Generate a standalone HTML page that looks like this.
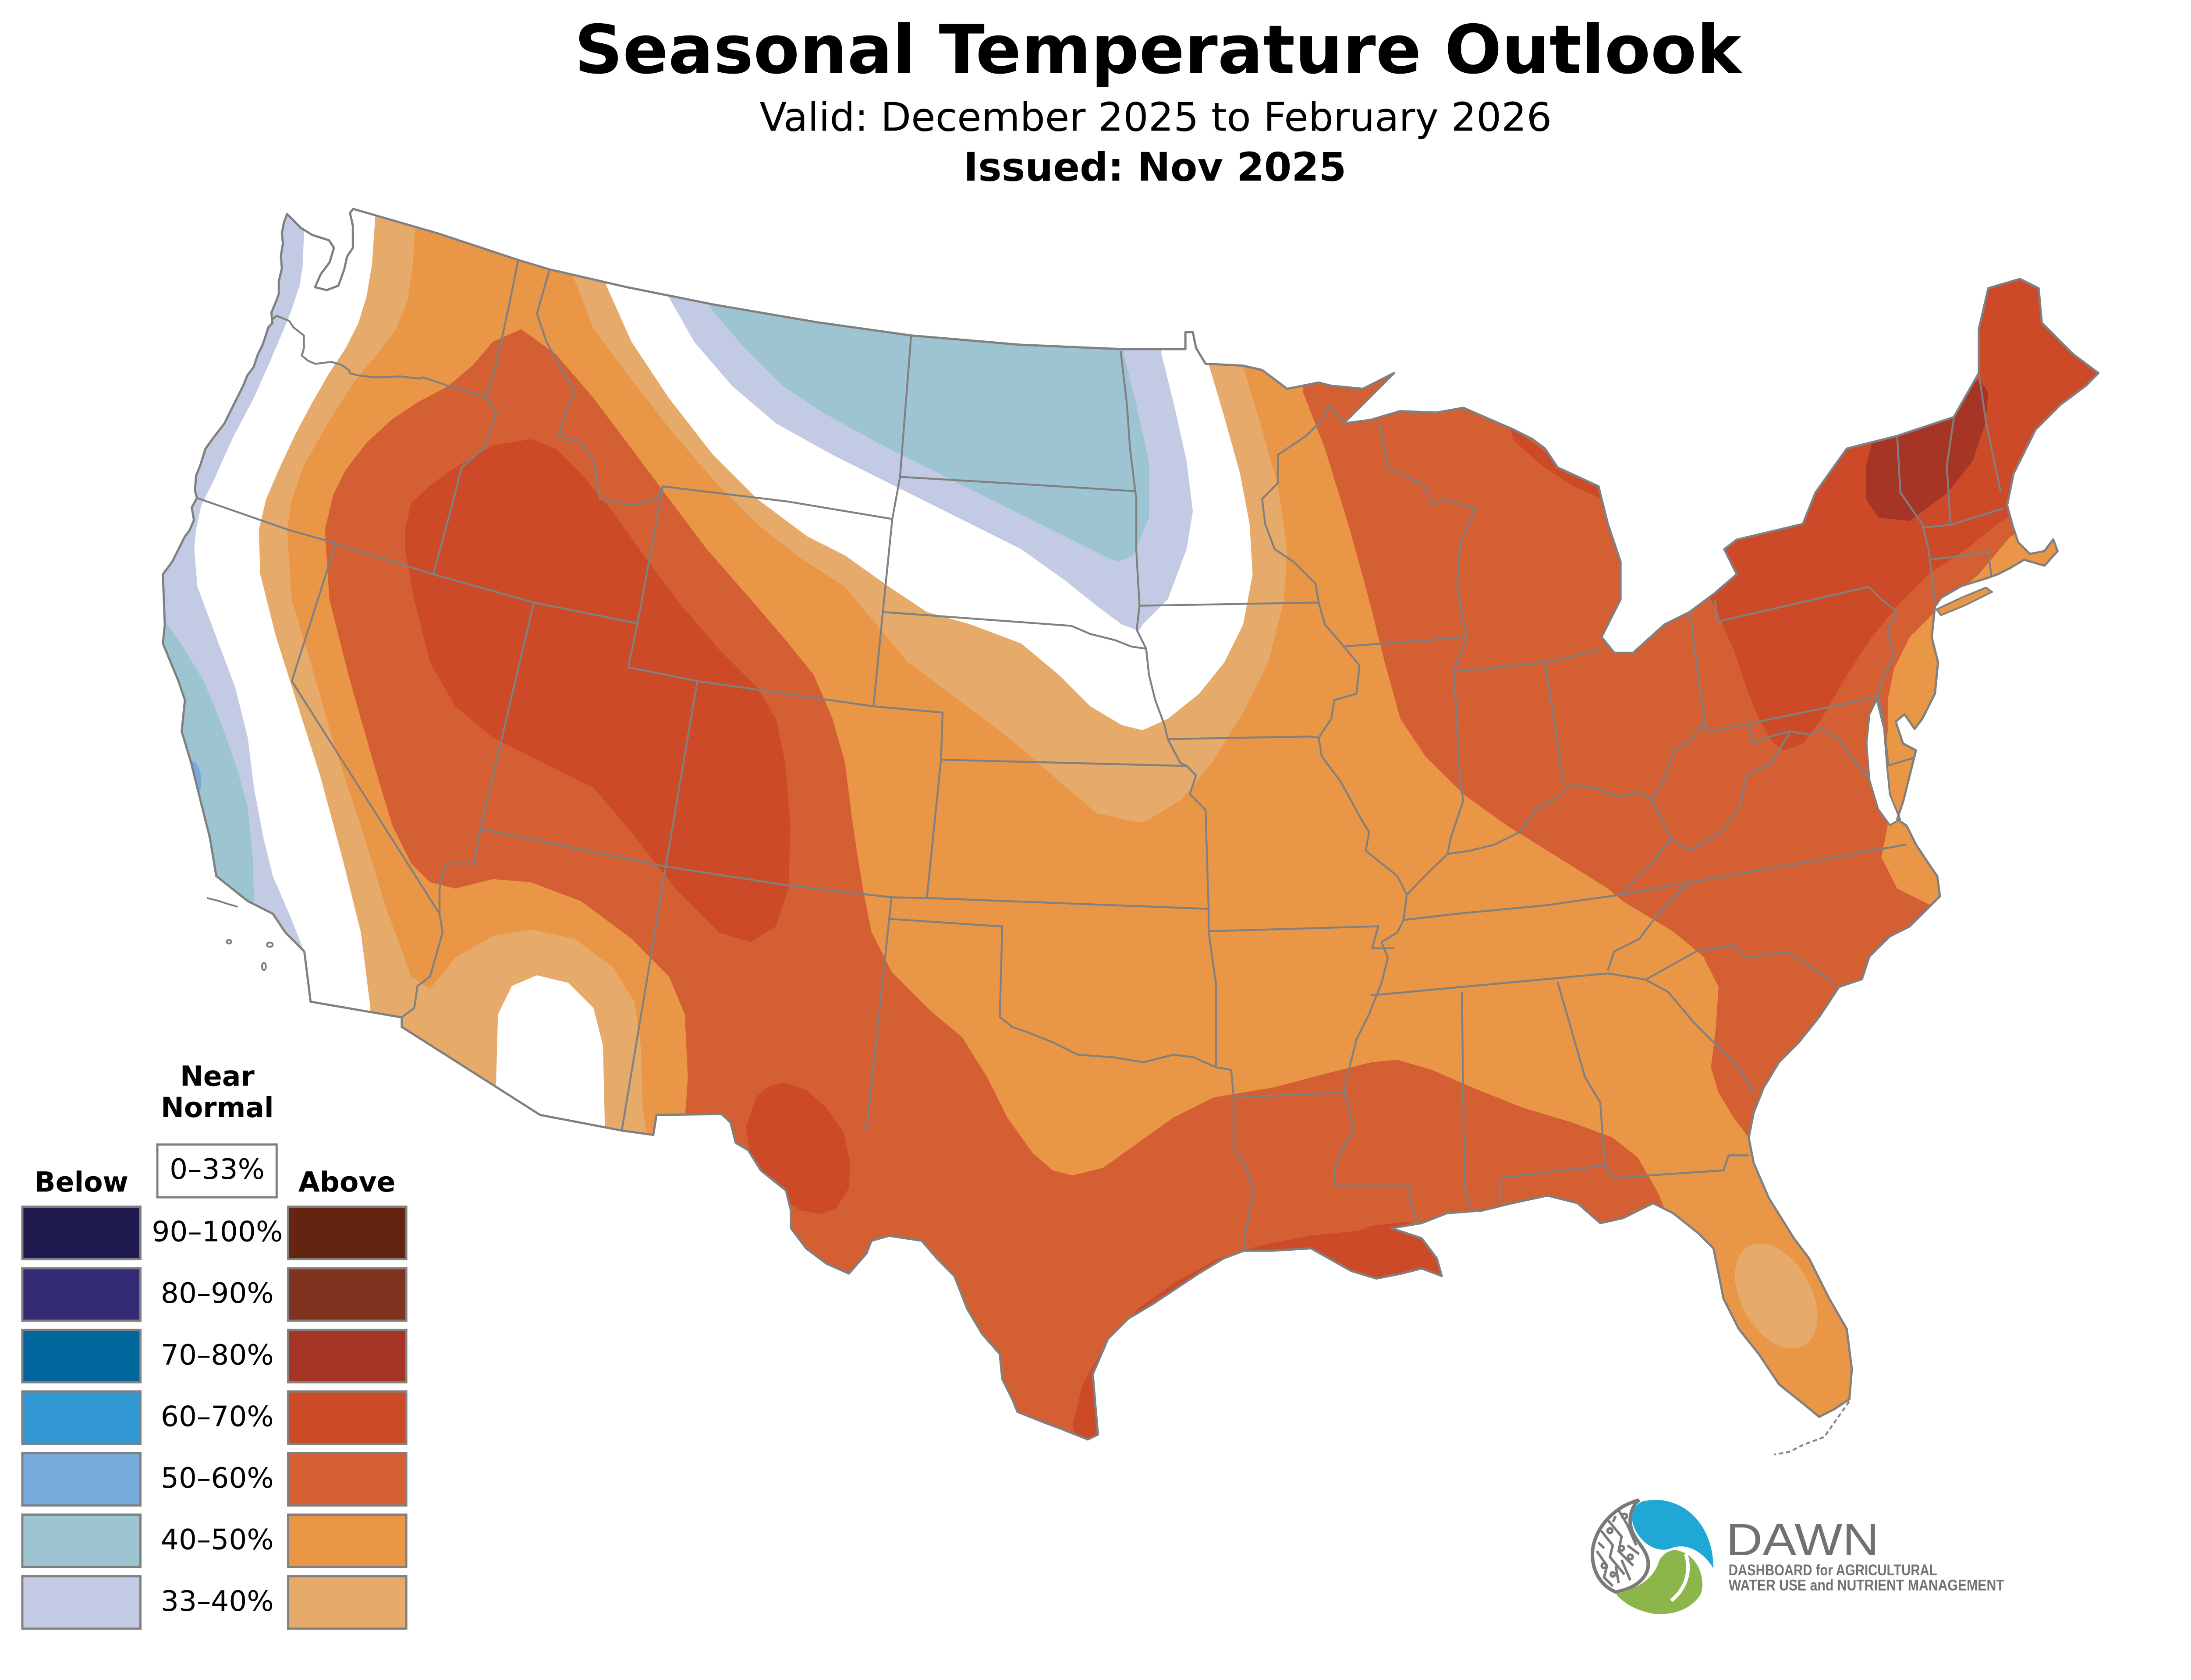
<!DOCTYPE html>
<html><head><meta charset="utf-8">
<style>html,body{margin:0;padding:0;background:#fff;}svg{display:block;}</style>
</head><body>
<svg xmlns="http://www.w3.org/2000/svg" width="5218" height="3835" viewBox="0 0 1568 1152.4">
<defs>
<clipPath id="us"><path id="usp" d="M242.2,143.3 L300,160 L355.3,178.3 L376.9,184.8 L430,197 L490,209 L560,221 L624.8,230.1 L700,236.5 L770.3,239.5 L812.9,239.5 L812.9,227.9 L818,227.9 L820.2,238.7 L826.7,249.5 L852.5,250.8 L865.5,253.8 L882.7,266.7 L904.3,262.4 L912.9,264.6 L934.5,266.7 L956,255.9 L921.5,290.4 L940,288 L960,282 L985,283 L1003.5,279.7 L1038,294.7 L1050.9,301.2 L1059.5,307.7 L1068.1,320.6 L1096.2,333.6 L1102.6,359.4 L1111.3,385.3 L1111.3,411.2 L1102.6,428.4 L1098.3,437 L1107,447.8 L1119.9,447.8 L1141.4,428.4 L1158.7,419.8 L1175.9,406.9 L1191,393.9 L1182.4,376.7 L1191,370.2 L1236.3,359.4 L1245,337.9 L1266.5,307.7 L1301,299 L1339.8,286.1 L1357,255.9 L1357,225.7 L1363.5,197.7 L1385.1,191.3 L1398,197.7 L1400.2,221.4 L1421.7,243 L1439,255.9 L1430.4,264.6 L1413.1,277.5 L1395.9,294.7 L1380.8,324.9 L1376.4,346.5 L1380,360 L1384,372 L1392,380 L1402,378 L1408,370 L1411,378 L1402,388 L1388,384 L1378.6,389.6 L1370,393.9 L1361.4,397 L1345,402 L1331.2,410 L1326.9,416 L1324.7,437 L1329,454.3 L1326.9,475.8 L1318.2,493.1 L1313,500 L1306,490 L1300,495 L1305,510 L1313.9,514.7 L1305.3,549.1 L1301,562 L1307.5,566.4 L1313.9,579.3 L1322.5,592.3 L1328.5,601 L1330.3,614.8 L1319.9,625.2 L1309.5,635.5 L1295.8,642.4 L1281.9,656.2 L1276.8,671.7 L1261.2,676.9 L1247.5,697.6 L1233.6,714.9 L1219.9,728.7 L1209.5,745.9 L1202.6,763.2 L1199.2,780.4 L1202.6,797.7 L1213,821.8 L1230.2,849.4 L1240.6,863.2 L1254.4,890.8 L1266.4,911.5 L1269.9,939.1 L1268.2,959.8 L1257.8,966.7 L1247.5,971.9 L1237.1,963.3 L1219.9,949.5 L1206.1,928.8 L1192.3,911.5 L1181.9,890.8 L1178.5,873.6 L1175,856.3 L1164.7,846 L1147.4,832.2 L1133.6,825.3 L1112.9,835.6 L1097.4,839 L1081.8,825.3 L1061.2,820.1 L1037,825.3 L1016.3,830.4 L992.2,832.2 L974.9,839 L954.2,842.5 L974.9,849.4 L985.3,863.2 L988.7,875.3 L974.9,870.1 L961.1,873.6 L943.9,877 L926.6,871.8 L899,856.3 L871.4,858 L852.9,858 L839.1,863.2 L821.9,873.6 L790.8,894.3 L773.6,904.6 L759.8,918.4 L749.4,942.6 L751.1,963.3 L752.9,984 L746,987.4 L728.7,980.5 L714.9,975.3 L697.7,968.4 L694.2,959.8 L687.3,946 L685.6,928.8 L673.5,915 L663.2,897.7 L654.5,875.3 L642.5,863.2 L632.1,851.1 L609.7,847.7 L597.6,851.1 L594.2,859.8 L582.1,873.6 L566.6,866.7 L552.8,856.3 L542.4,842.5 L542.4,830.4 L539,816.6 L530.3,809.7 L521.7,802.8 L513.1,789 L504.5,783.9 L501,770 L494.8,764.2 L450.2,764.8 L448,778.5 L426.4,775.5 L370.4,764.8 L275.5,704.4 L275.5,697.9 L213,687.1 L208.7,652.7 L195.8,639.7 L187.1,626.8 L169.9,618.1 L148.3,600.9 L144,575 L137.5,549.2 L131.1,523.3 L124.6,501.7 L126.8,480.2 L122.4,467.2 L111.7,441.4 L113,428.4 L111.7,393.9 L118.1,385.3 L126.8,368 L130.1,363.6 L133,356.7 L131.5,348.1 L135.1,341.6 L133.7,336.6 L134.4,326.5 L137.3,319.3 L140.9,307.8 L146.6,299.9 L153.8,290.6 L158.1,281.9 L162.4,273.3 L166.7,264.7 L169.6,257.5 L173.9,251.8 L176.8,243.1 L179.7,237.4 L181.8,231.6 L184,224.5 L186.8,221.6 L186.1,214.4 L189.7,205.8 L191.2,201.5 L191.2,192.8 L193.3,184.2 L192.6,175.6 L194,167 L193.3,159.8 L194.7,152.6 L196.9,146.8 L206.2,156.2 L214.2,161.2 L225.6,164.8 L229,170 L226,180 L220,188 L216,197 L224,199 L232,196 L236,185 L238,176 L242,170 L242,155 L240,146 Z"/></clipPath>
</defs>

<rect x="0" y="0" width="1568" height="1152.4" fill="#ffffff"/>

<!-- Titles -->
<text x="794" y="50" text-anchor="middle" font-family="DejaVu Sans, Liberation Sans, sans-serif" font-weight="bold" font-size="46" fill="#000">Seasonal Temperature Outlook</text>
<text x="792.5" y="89.7" text-anchor="middle" font-family="DejaVu Sans, Liberation Sans, sans-serif" font-size="27.1" fill="#000">Valid: December 2025 to February 2026</text>
<text x="792" y="123.9" text-anchor="middle" font-family="DejaVu Sans, Liberation Sans, sans-serif" font-weight="bold" font-size="27" fill="#000">Issued: Nov 2025</text>

<!-- Map fills -->
<g clip-path="url(#us)">
  <rect x="0" y="0" width="1568" height="1152" fill="#ffffff"/>
  <path fill="#c3cbe4" d="M90,140 L208.4,140 L208.4,159.8 L207.7,181.3 L205.5,195.7 L199.8,213 L194,227.3 L185.4,247.5 L173.9,273.3 L159.5,300.6 L146.6,329.4 L138,346.6 L134.4,363.6 L133.2,376.7 L135.4,402.5 L148.3,437 L161.3,471.5 L169.9,506 L174.2,540.5 L180.7,575 L187.1,600.9 L200.1,631.1 L208.7,652.7 L215,700 L90,700 Z"/>
  <path fill="#9cc4d1" d="M100,415 L111.7,424.1 L126.8,445.7 L139.7,467.2 L150.5,493.1 L161.3,523.3 L169.9,553.5 L173.3,588 L174.2,620 L100,620 Z"/>
  <ellipse cx="131" cy="536" rx="7" ry="14" fill="#78aadb"/>
  <path fill="#c3cbe4" d="M458,100 L458.8,204.2 L476,234.4 L501.9,264.6 L532.1,290.4 L570.9,312 L614,333.6 L657.1,355.1 L700.3,376.7 L730.4,398.2 L752,415.5 L769.3,428.4 L781,432.7 L783.5,428.4 L800.8,411.2 L813.7,376.7 L818,350.8 L813.7,316.3 L805.1,277.5 L796.5,243 L796,100 Z"/>
  <path fill="#9cc4d1" d="M486,100 L486.8,210.7 L510.5,238.7 L536.4,264.6 L562.3,281.8 L601.1,303.4 L644.2,324.9 L687.3,346.5 L730.4,368 L760.6,383.1 L766.3,385.3 L777.1,381 L787.9,355.1 L787.9,316.3 L779.2,277.5 L770.6,243 L770,100 Z"/>
  <path fill="#e6aa6a" d="M257,100 L410,100 L415.7,195.6 L433,234.4 L458.8,273.2 L489,312 L519.2,342.2 L553.7,368 L579.5,381 L609.7,402.5 L635.6,419.8 L665.8,428.4 L700.3,441.4 L726.1,462.9 L747.7,484.5 L769.3,497.4 L783.5,500.9 L800.8,493.1 L822.4,475.8 L839.6,454.3 L852.5,428.4 L859,393.9 L856.9,359.4 L850.4,324.9 L839.6,286.1 L828.8,249.5 L828,100 L1550,100 L1550,1100 L414.8,1100 L414.8,773.4 L413.5,717.3 L407,691.4 L389.8,674.2 L368.2,669 L351,676.3 L341.5,695.8 L340.2,743.2 L340,1100 L254,1100 L254,691.4 L247.5,639.7 L234.6,587.9 L219.5,531.9 L204.4,484.5 L189.3,437 L178.5,393.9 L177.5,363.6 L182.5,342.3 L191.2,322.2 L202.6,297.7 L214.1,276.2 L225.6,256.1 L237.1,238.8 L245.8,221.6 L251.5,202.9 L255.1,181.3 L257.3,149 Z"/>
  <path fill="#ea9647" d="M284.6,100 L392,100 L392,187 L407.1,225.8 L433,260.2 L463.1,299 L493.3,333.6 L519.2,359.4 L549.3,383.1 L579.5,402.5 L601.1,428.4 L622.6,454.3 L657.1,480.2 L691.6,506 L721.8,531.9 L752,557.8 L781.3,564.2 L787.9,562.1 L809.4,549.1 L831,523.3 L852.5,488.8 L869.8,454.3 L880.6,411.2 L882.7,376.7 L876.3,333.6 L865.5,294.7 L852.5,251.6 L850,100 L1550,100 L1550,1100 L443.7,1100 L443.7,777.7 L440.7,760.4 L439.4,717.3 L435.1,687.1 L420,663.4 L394.1,644 L363.9,637.5 L338,641.9 L312.2,656.9 L294.9,678.5 L282,669.9 L264.7,622.5 L247.5,566.4 L230.2,514.7 L213,454.3 L200.1,411.2 L196.9,363.6 L199.8,343.8 L208.4,319.3 L225.6,289.1 L242.9,261.8 L257.3,244.6 L271.6,225.9 L279.6,205.8 L283.1,181.3 L284.6,158.3 Z"/>
  <ellipse cx="1218" cy="889" rx="24" ry="39" transform="rotate(-29 1218 889)" fill="#e6aa6a"/>
  <path fill="#d35f33" d="M357.5,225.8 L381.2,243 L407.1,273.2 L433,307.7 L458.8,342.2 L484.7,376.7 L514.9,411.2 L540.7,441.4 L558,462.9 L570.9,493.1 L579.5,523.3 L583.8,557.8 L588.2,588 L592.5,613.8 L597.6,639 L611.4,666.6 L639,694.2 L659.7,711.4 L677,739 L690.8,766.6 L708,790.8 L721.8,802.8 L735.4,806.3 L756.3,801.1 L780.5,783.9 L804.6,766.6 L832.2,752.8 L873.6,745.9 L905.9,737.3 L940.4,728.7 L957.7,726.9 L981.8,733.8 L1009.4,745.9 L1043.9,759.7 L1078.4,770.1 L1106,780.4 L1123.3,794.2 L1137.1,818.4 L1144,835.6 L1150,900 L760,1050 L469.6,1050 L469.6,769.1 L471.7,738.9 L469.6,695.8 L458.8,669.9 L432.9,643.8 L398.4,618.1 L363.9,605.2 L338,603 L312.2,609.5 L294.9,605.2 L282,592.3 L269.1,566.4 L256.1,523.3 L238.9,462.9 L225.9,411.2 L222.8,363.6 L228.5,339.4 L237.1,322.2 L251.5,303.5 L268.8,287.7 L286,276.2 L307.6,264.7 L324.5,250.3 L338,234.4 Z"/>
  <path fill="#d35f33" d="M885,120 L893.5,268.9 L908.6,307.7 L925.8,363.7 L938.8,411.2 L949.6,454.3 L960.3,493.1 L977.6,519 L1003.5,544.8 L1033.6,566.4 L1068.1,587.9 L1102.6,609.5 L1112.9,618.3 L1147.4,639 L1168.1,656.2 L1178.5,676.9 L1176.7,704.5 L1173.3,732.1 L1178.5,749.4 L1188.8,766.6 L1199.2,780.4 L1240,800 L1550,800 L1550,120 Z"/>
  <path fill="#ea9647" d="M1420,330 L1408.8,355.1 L1378.6,368 L1357,393.9 L1326.9,419.8 L1309.6,437 L1298.8,458.6 L1294.5,480.2 L1294.5,501.7 L1290.2,531.9 L1294.5,566.4 L1290.2,588 L1301,609.5 L1327,622.4 L1400,640 L1500,640 L1500,330 Z"/>
  <path fill="#cc4a28" d="M338,305.5 L364,301.2 L381.2,307.7 L398.4,324.9 L420,350.8 L441.5,381 L467.4,415.5 L493.3,445.7 L519.2,471.5 L532.1,493.1 L538.5,523.3 L542,566.4 L540.7,609.5 L532.1,635.4 L514.9,646.2 L493.3,639.7 L463.1,609.5 L432.9,570.7 L407.1,540.5 L372.5,523.3 L338,506 L312.2,484.5 L294.9,454.3 L284.1,411.2 L277.7,376.7 L277.7,363 L282,345 L295,333 L310,322 Z"/>
  <path fill="#cc4a28" d="M526.9,745.2 L537.2,742.5 L552.8,747.6 L566.6,759.7 L578.6,777 L583.1,797.7 L582.1,814.9 L573.5,828.7 L563.1,832.8 L549.3,830.4 L539,823.5 L514.8,794.2 L511.4,773.5 L518.3,752.8 Z"/>
  <path fill="#cc4a28" d="M735.6,977 L742.5,949.5 L756.3,925.3 L780.5,897.7 L804.6,880.5 L835.7,863.2 L863.3,854.6 L897.8,847.7 L931.6,844.2 L940.4,840.8 L965,838 L985,850 L1000,880 L1000,1000 L740,1000 Z"/>
  <path fill="#cc4a28" d="M1150,330 L1150,380 L1172,408 L1188.9,445.7 L1197.5,471.5 L1206.1,493.1 L1214.8,508.2 L1223.4,514.7 L1236.3,510.3 L1249.2,493.1 L1266.5,462.9 L1283.7,437 L1301,415.5 L1322.5,393.9 L1348.4,376.7 L1370,359.4 L1382.9,350.8 L1400,340 L1460,250 L1420,150 L1250,150 Z"/>
  <path fill="#cc4a28" d="M1035,292 L1068,316 L1096,331 L1098,342 L1080,334 L1058,320 L1038,302 Z"/>
  <path fill="#a63526" d="M1279.5,320.6 L1283.7,303.4 L1301,294.7 L1322.5,281.8 L1344.1,268.9 L1357,260.2 L1363.5,268.9 L1361.4,290.4 L1352.7,316.3 L1335.5,337.9 L1309.6,357.3 L1288.1,355.1 L1279.5,342.2 Z"/>
</g>

<path d="M1287,480 L1292,500 L1294,525 L1296,545 L1303,562 L1296,566 L1288,555 L1282,535 L1280,510 L1282,490 Z" fill="#ffffff" stroke="#808080" stroke-width="1.2"/>
<path d="M1328,418 L1345,410 L1362,403 L1366,406 L1348,415 L1331,422 Z" fill="#ea9647" stroke="#808080" stroke-width="1.2"/>

<path fill="none" stroke="#808080" stroke-width="1.3" stroke-linejoin="round" d="
M186.8,219 L189.7,216.6 L198.3,220.1 L201.2,224.5 L208.4,230.2 L208.4,238.8 L207,243.9 L211.3,247.5 L216.3,249.6 L227.1,248.2 L234.3,250.3 L239.3,253.9 L240,256.1 L245.8,257.5 L257.3,258.9 L274.5,258.2 L287.5,259.7 L290.3,258.9 L307.6,264.7 L324.5,269.7 L333.7,272.3
M355.3,178.3 L349,210 L340.2,250 L333.7,272.3 L340.2,284 L331.6,307.7 L316.5,320.6 L312.2,337.9 L305,365 L297.1,393.9
M135.1,341.6 L198.3,363.6 L221.6,370.2 L297.1,393.9 L366.1,413.3 L437.2,427.6
M230.2,372.9 L200.1,467.2 L301.4,626.8
M376.9,184.8 L368.2,215 L374.7,234.4 L394.1,268.9 L387.6,284 L383.3,299 L398.4,303.4 L407,316.3 L411.4,342.2 L432.9,346.5 L450.2,342.2 L454.5,333.6 L437.2,427.6 L430.8,457.7 L478.2,467.2
M454.5,333.6 L540,344 L611.9,356
M624.8,230.1 L617.2,327.1 L611.9,356 L605.4,419.8 L599,484.5
M617.2,327.1 L700,332 L779.2,337
M478.2,467.2 L599,484.5 L646.4,488.8 L645.3,521.1 L635.6,616
M605.4,419.8 L734.7,429.3 L747.7,434.9 L765,439.2 L775.8,443.5 L786,445
M645.3,521.1 L813.7,525.4
M478.2,467.2 L456.6,594.4 L540.7,607.4 L611.4,615.5 L635.6,616 L828.1,623.4
M329.4,568.6 L456.6,594.4
M366.1,413.3 L329.4,568.6 L325.1,592.3 L305.7,592.3 L301.4,609.5 L301.4,626.8 L303.5,639.7 L294.9,669.9 L286.3,676.3 L284.1,691.4 L275.5,697.9
M456.6,594.4 L426.4,775.5
M611.4,615.5 L609.7,631.1 L594.2,775.9
M609.7,630.3 L687.3,635.5 L685.6,697.6 L694.2,704.5 L704.6,708 L721.8,714.9 L739,723.5 L763.2,725.2 L784,728.7 L804.6,723.5 L818.4,725.2 L833.9,732.1 L844.3,733.8 L846,752.8 L846,787.3 L854.6,801.1 L859.8,818.4 L854.6,842.5 L852.9,858
M813.7,525.4 L820.2,531.9 L815.9,544.8 L826.7,555.6 L828.8,622.5 L828.8,639 L833.9,675.2 L833.9,732.1
M846,752.8 L923.6,749.4
M828.8,638.8 L945.2,635.4 L941,650.5 L956,650.5
M768.5,240.8 L772.8,277.5 L774.9,307.7 L779.2,342.2 L779.2,376.7 L781.4,415.5 L779.5,432 L786,445 L787.9,462.9 L792.2,480.2 L798.6,497.4 L800.8,507 L809.4,523.3 L813.7,525.4
M781.4,415.5 L904.3,413.3
M904.3,413.3 L902.1,400.4 L887,385.3 L874.1,376.7 L867.6,359.4 L865.5,342.2 L876.3,331.4 L876.3,312 L895.7,299 L904.3,290.4 L912,278 L921.5,290.4
M946,290 L951.7,320.6 L977.6,333.6 L981.9,346.5 L990.5,342.2 L1003.5,346.5 L1012.1,348.6 L1001.3,372.4 L999.2,402.5 L1005.6,437 L997,460.8
M921.5,443.5 L1005.6,437
M904.3,413.3 L908.6,428.4 L921.5,443.5 L932.3,456.4 L930.2,475.8 L915,480.2 L912.9,493.1 L904.3,506 L906.4,518.9 L919.4,536.2 L932.3,559.9 L938.8,570.7 L936.6,583.6 L947.4,592.3 L958.2,600.9 L964.7,613.8 L962.5,631.1 L958.2,639.7 L947.4,646.2 L951.7,657 L947.4,674.2 L938.8,695.8 L930.2,713 L923.7,738.9 L921.5,751.8 L923.2,752.8 L928.3,773.5 L916.3,797.7 L914.5,813.2 L966.3,813.2 L968,828.7 L973.2,839
M800.8,507 L897.8,505.2 L904.3,506
M997,460.8 L1001.3,536.2 L1003.5,549.1 L994.8,575 L992.7,585.8
M964.7,613.8 L980,598 L992.7,585.8 L1007.8,583.6 L1025,579.3 L1042.3,570.7 L1053,555.6 L1068.1,547 L1076.8,538.4 L1094,540.5 L1111.3,547 L1124.2,542.7 L1132.8,549.1 L1141.4,534.1 L1147.9,514.7 L1158.7,508.2 L1167.3,497.4 L1169.5,499.6
M997,460.8 L1059.5,454.3 L1098.3,445.7
M1059.5,454.3 L1072.5,538.4
M1158.7,419.8 L1169.5,499.6 L1173.8,501.7 L1288.1,478
M1175.9,411.2 L1178.1,426.3 L1281.6,402.5 L1290.2,411.2 L1301,419.8 L1294.5,432.7 L1298.8,450 L1290.2,467.2 L1288.1,478 L1291,490 L1295,525 L1312,520
M1199.7,497.4 L1201.8,510.3 L1210.4,506 L1227.7,501.7 L1240.6,503.9 L1249.2,499.6 L1262,508 L1270,520 L1282,535
M1145.8,575 L1158.7,583.6 L1180.3,570.7 L1193.2,553.5 L1197.5,532 L1214.8,523.3 L1227.7,501.7
M1132.8,549.1 L1145.8,575 L1132.8,592.3 L1111.3,613.8
M962.5,631.1 L999.2,626.8 L1060,621 L1111.3,613.8 L1158.7,605.2 L1307.5,579.3
M1158.7,605.2 L1137.1,626.8 L1124.2,644 L1106.9,652.7 L1102.6,665.6
M940,682.8 L1102.6,667.7 L1128.5,672 L1163,652.7 L1188.9,648.3 L1197.5,657 L1225.6,652.7 L1257.9,674.2
M1128.5,672 L1143.9,680.4 L1161.2,701 L1175,714.9 L1192.3,732.1 L1202.6,749.4
M1002.5,680.4 L1004.2,811.5 L1007.7,828.7
M1068.1,673.5 L1087,739 L1097.4,756.3 L1099.1,780.4 L1100.8,799.4
M1028.4,825 L1028.4,808 L1100.8,799.4 L1106,808 L1181.9,802.8 L1185.4,792.5 L1199.2,792.5
M1301,299 L1303.2,337.9 L1318.2,359.4 L1322.5,376.7 L1326.9,411.2
M1339.8,287 L1335,320 L1337.6,360
M1357,256 L1362,290 L1372.1,337.9
M1318.2,362 L1337.6,360 L1374.3,348.6
M1322.5,384 L1363.5,378.8 L1365.6,395
"/>
<use href="#usp" fill="none" stroke="#808080" stroke-width="1.5" stroke-linejoin="round"/>

<g fill="none" stroke="#808080" stroke-width="1.2">
  <path d="M142,616 L150,618 L156,620 L163,622"/>
  <ellipse cx="157" cy="646" rx="1.6" ry="1.2"/>
  <ellipse cx="185" cy="648" rx="2" ry="1.5"/>
  <ellipse cx="181" cy="663" rx="1.3" ry="2.5"/>
  <path d="M1268,961.5 L1262,970 L1251,985.7 L1237,990.9 L1226.8,996 L1216.4,997.8" stroke-dasharray="3 2"/>
</g>

<!-- Legend -->
<g font-family="DejaVu Sans, Liberation Sans, sans-serif" font-size="19" fill="#000" text-anchor="middle">
  <text x="149" y="744.8" font-weight="bold">Near</text>
  <text x="149" y="766.3" font-weight="bold">Normal</text>
  <text x="55.8" y="817.3" font-weight="bold">Below</text>
  <text x="237.9" y="817.3" font-weight="bold">Above</text>
  <rect x="107.9" y="785.1" width="81.8" height="36.2" fill="#fff" stroke="#808080" stroke-width="1.5"/>
  <text x="148.9" y="808.6" font-size="19.4">0–33%</text>
</g>
<g stroke="#808080" stroke-width="1.5">
  <rect x="15.3" y="827.7" width="81" height="36" fill="#1f1a50"/>
  <rect x="15.3" y="869.95" width="81" height="36" fill="#332c74"/>
  <rect x="15.3" y="912.2" width="81" height="36" fill="#00669b"/>
  <rect x="15.3" y="954.45" width="81" height="36" fill="#3399d4"/>
  <rect x="15.3" y="996.7" width="81" height="36" fill="#78aadb"/>
  <rect x="15.3" y="1038.95" width="81" height="36" fill="#9cc4d1"/>
  <rect x="15.3" y="1081.2" width="81" height="36" fill="#c3cbe4"/>
  <rect x="197.6" y="827.7" width="81" height="36" fill="#632410"/>
  <rect x="197.6" y="869.95" width="81" height="36" fill="#7e341e"/>
  <rect x="197.6" y="912.2" width="81" height="36" fill="#a63526"/>
  <rect x="197.6" y="954.45" width="81" height="36" fill="#cc4a28"/>
  <rect x="197.6" y="996.7" width="81" height="36" fill="#d35f33"/>
  <rect x="197.6" y="1038.95" width="81" height="36" fill="#ea9647"/>
  <rect x="197.6" y="1081.2" width="81" height="36" fill="#e6aa6a"/>
</g>
<g font-family="DejaVu Sans, Liberation Sans, sans-serif" font-size="19.4" fill="#000" text-anchor="middle">
  <text x="149" y="851.5">90–100%</text>
  <text x="149" y="893.75">80–90%</text>
  <text x="149" y="936">70–80%</text>
  <text x="149" y="978.25">60–70%</text>
  <text x="149" y="1020.5">50–60%</text>
  <text x="149" y="1062.75">40–50%</text>
  <text x="149" y="1105">33–40%</text>
</g>

<!-- DAWN logo -->
<g>
  <path d="M1124,1029 C1104,1034 1092,1052 1092,1066 C1092,1078 1098,1088 1108,1092 C1120,1090 1128,1084 1130,1076 C1132,1066 1124,1060 1120,1052 C1116,1044 1118,1034 1124,1029 Z" fill="#ffffff" stroke="#7a7a7a" stroke-width="2.4"/>
  <g fill="none" stroke="#7a7a7a" stroke-width="1.7">
    <path d="M1098,1050 L1106,1060 L1104,1068 L1114,1080"/>
    <path d="M1102,1042 L1112,1054 L1110,1064 L1120,1074"/>
    <path d="M1110,1036 L1116,1046 L1122,1060"/>
    <path d="M1095,1064 L1102,1074 L1100,1082 L1106,1088"/>
    <path d="M1112,1070 L1118,1084"/>
    <path d="M1096,1058 L1100,1062"/>
    <path d="M1106,1044 L1108,1040"/>
    <path d="M1116,1060 L1124,1066"/>
    <path d="M1108,1074 L1110,1086"/>
    <circle cx="1104" cy="1050" r="1.6"/>
    <circle cx="1112" cy="1062" r="1.6"/>
    <circle cx="1100" cy="1074" r="1.6"/>
    <circle cx="1118" cy="1068" r="1.6"/>
    <circle cx="1114" cy="1040" r="1.6"/>
    <circle cx="1106" cy="1080" r="1.4"/>
  </g>
  <path d="M1126,1030 C1150,1024 1175,1042 1175,1076 C1168,1064 1156,1058 1146,1062 C1136,1066 1124,1058 1120,1046 C1118,1040 1120,1033 1126,1030 Z" fill="#1fa8d5"/>
  <path d="M1108,1093 C1122,1090 1134,1084 1138,1070 C1142,1064 1148,1062 1152,1064 C1166,1068 1170,1086 1166,1094 C1158,1106 1144,1108 1134,1107 C1122,1105 1112,1099 1108,1093 Z" fill="#8cb64a"/>
  <path d="M1146,1098 C1156,1090 1160,1078 1156,1066" fill="none" stroke="#ffffff" stroke-width="2.5"/>
  <text x="1183.6" y="1066.8" font-family="Liberation Sans, sans-serif" font-size="31" fill="#707271" textLength="105" lengthAdjust="spacingAndGlyphs">DAWN</text>
  <text x="1185.4" y="1080.6" font-family="Liberation Sans, sans-serif" font-weight="bold" font-size="10.5" fill="#707271" textLength="143" lengthAdjust="spacingAndGlyphs">DASHBOARD for AGRICULTURAL</text>
  <text x="1185.4" y="1090.9" font-family="Liberation Sans, sans-serif" font-weight="bold" font-size="10.5" fill="#707271" textLength="189" lengthAdjust="spacingAndGlyphs">WATER USE and NUTRIENT MANAGEMENT</text>
</g>
</svg>
</body></html>
